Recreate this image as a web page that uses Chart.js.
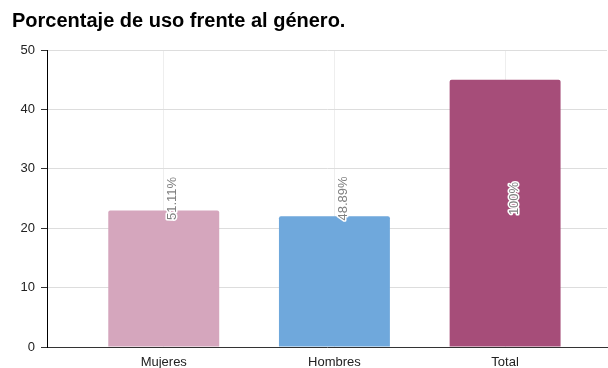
<!DOCTYPE html>
<html>
<head>
<meta charset="utf-8">
<script src="https://cdn.jsdelivr.net/npm/chart.js@4.4.1/dist/chart.umd.min.js"></script>
<style>
  html, body { margin: 0; padding: 0; background: #ffffff; }
  #wrap { width: 608px; height: 368px; }
</style>
</head>
<body>
<div id="wrap"><canvas id="c" width="608" height="368"></canvas></div>
<script>
const categories = ["Mujeres", "Hombres", "Total"];
const values = [23, 22, 45];
const annotations = ["51.11%", "48.89%", "100%"];
const barColors = ["#d5a6bd", "#6fa8dc", "#a64d79"];
const yTicks = [0, 10, 20, 30, 40, 50];
const titleText = "Porcentaje de uso frente al género.";

const FONT = "'Liberation Sans', Arial, sans-serif";

const annotationPlugin = {
  id: 'annot',
  afterDatasetsDraw(chart) {
    const ctx = chart.ctx;
    const meta = chart.getDatasetMeta(0);
    const area = chart.chartArea;
    const cy = (area.top + area.bottom) / 2;
    ctx.save();
    ctx.font = "13px " + FONT;
    ctx.textAlign = 'center';
    ctx.textBaseline = 'middle';
    meta.data.forEach((bar, i) => {
      ctx.save();
      ctx.translate(bar.x + 9, cy);
      ctx.rotate(-Math.PI / 2);
      ctx.lineJoin = 'round';
      ctx.lineWidth = 3;
      ctx.strokeStyle = '#ffffff';
      ctx.strokeText(annotations[i], 0, 0);
      ctx.fillStyle = '#808080';
      ctx.fillText(annotations[i], 0, 0);
      ctx.restore();
    });
    ctx.restore();
  }
};

new Chart(document.getElementById('c'), {
  type: 'bar',
  data: {
    datasets: [{
      data: values.map((v, i) => ({ x: i, y: v })),
      backgroundColor: barColors,
      borderWidth: 0,
      borderRadius: 2,
      borderSkipped: 'start',
      barPercentage: 0.65,
      categoryPercentage: 1.0
    }]
  },
  options: {
    responsive: false,
    animation: false,
    devicePixelRatio: 1,
    layout: { padding: { left: 12, right: 1, top: 0, bottom: 0 } },
    plugins: {
      legend: { display: false },
      tooltip: { enabled: false },
      title: {
        display: true,
        text: titleText,
        align: 'start',
        color: '#000000',
        font: { family: FONT, size: 20, weight: 'bold' },
        padding: { top: 9, bottom: 17 }
      }
    },
    scales: {
      x: {
        type: 'linear',
        offset: false,
        min: -0.684,
        max: 2.597,
        afterBuildTicks(scale) {
          scale.ticks = categories.map((c, i) => ({ value: i }));
        },
        afterFit(scale) { scale.height = 21; },
        ticks: {
          autoSkip: false,
          maxRotation: 0,
          padding: 8,
          color: '#222222',
          font: { family: FONT, size: 13 },
          callback: (v) => categories[v]
        },
        grid: { offset: false, color: '#eeeeee', drawTicks: false },
        border: { display: true, color: '#333333', width: 1 }
      },
      y: {
        min: 0,
        max: 50,
        afterBuildTicks(scale) {
          scale.ticks = yTicks.map(v => ({ value: v }));
        },
        afterFit(scale) { scale.width = 35; },
        ticks: {
          padding: 6,
          color: '#222222',
          font: { family: FONT, size: 13 }
        },
        grid: { color: '#dddddd', tickColor: '#333333', tickLength: 6 },
        border: { display: true, color: '#000000', width: 1 }
      }
    }
  },
  plugins: [annotationPlugin]
});
</script>
</body>
</html>
